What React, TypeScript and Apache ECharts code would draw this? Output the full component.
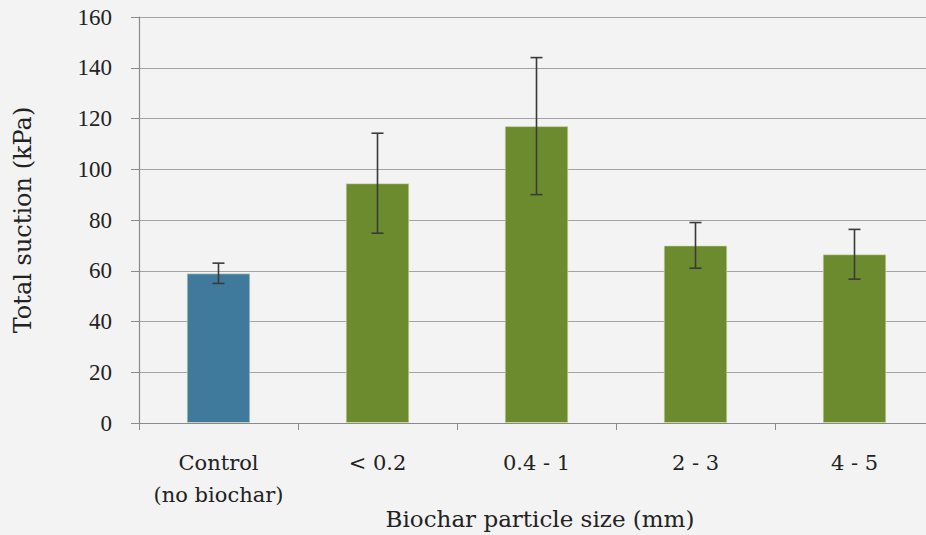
import React, { useEffect, useRef } from "react";
import * as echarts from "echarts";

// Particle-size classes on the x axis
const categories = ["Control\n(no biochar)", "< 0.2", "0.4 - 1", "2 - 3", "4 - 5"];
// Mean total suction (kPa) per class
const meanSuction = [59, 94.5, 117, 70, 66.5];
// Half-width of the error bar (kPa) per class
const suctionError = [4, 19.7, 27, 9, 9.8];
// Y axis ticks
const yMin = 0;
const yMax = 160;
const yStep = 20;

const X_TITLE = "Biochar particle size (mm)";
const Y_TITLE = "Total suction (kPa)";

const CONTROL_COLOR = "#3f7a9c";
const BIOCHAR_COLOR = "#6c8a2e";
const TEXT_FONT = "'DejaVu Serif', 'Liberation Serif', serif";
const TICK_FONT = "'Liberation Serif', serif";

export default function App() {
  const ref = useRef<HTMLDivElement>(null);

  useEffect(() => {
    document.body.style.margin = "0";
    if (!ref.current) return;
    const chart = echarts.init(ref.current, undefined, { renderer: "svg" });

    const errorData = meanSuction.map((m, i) => [i, m - suctionError[i], m + suctionError[i]]);

    chart.setOption({
      animation: false,
      backgroundColor: "#f3f3f3",
      grid: {
        left: 139,
        right: -8,
        top: 17,
        bottom: 112,
        containLabel: false,
        outerBoundsMode: "none",
      },
      graphic: [
        {
          type: "text",
          x: 540,
          y: 519,
          style: {
            text: X_TITLE,
            fontFamily: TEXT_FONT,
            fontSize: 23,
            fill: "#222",
            align: "center",
            verticalAlign: "middle",
          },
        },
      ],
      xAxis: {
        type: "category",
        data: categories,
        axisLine: { show: true, lineStyle: { color: "#8a8a8a", width: 1.2 } },
        axisTick: { show: true, length: 7, alignWithLabel: false, lineStyle: { color: "#8a8a8a" } },
        axisLabel: {
          fontFamily: TEXT_FONT,
          fontSize: 21,
          color: "#222",
          margin: 24,
          lineHeight: 32,
          interval: 0,
        },
        splitLine: { show: false },
      },
      yAxis: {
        type: "value",
        min: yMin,
        max: yMax,
        interval: yStep,
        name: Y_TITLE,
        nameLocation: "middle",
        nameGap: 104,
        nameTextStyle: { fontFamily: TEXT_FONT, fontSize: 24, color: "#222" },
        axisLine: { show: true, lineStyle: { color: "#8a8a8a", width: 1.2 } },
        axisTick: { show: true, length: 8, lineStyle: { color: "#8a8a8a" } },
        axisLabel: {
          fontFamily: TICK_FONT,
          fontSize: 23,
          color: "#222",
          margin: 27,
        },
        splitLine: { show: true, lineStyle: { color: "#a3a3a3", width: 1 } },
      },
      series: [
        {
          type: "bar",
          data: meanSuction,
          barWidth: "40%",
          itemStyle: {
            color: (p: any) => (p.dataIndex === 0 ? CONTROL_COLOR : BIOCHAR_COLOR),
            borderColor: "rgba(220,228,190,0.6)",
            borderWidth: 1,
          },
          z: 2,
        },
        {
          type: "custom",
          data: errorData,
          z: 3,
          renderItem: (params: any, api: any) => {
            const idx = api.value(0);
            const low = api.coord([idx, api.value(1)]);
            const high = api.coord([idx, api.value(2)]);
            const half = 6;
            const style = { stroke: "#3a3a3a", lineWidth: 1.6 };
            return {
              type: "group",
              children: [
                { type: "line", shape: { x1: high[0], y1: high[1], x2: low[0], y2: low[1] }, style },
                { type: "line", shape: { x1: high[0] - half, y1: high[1], x2: high[0] + half, y2: high[1] }, style },
                { type: "line", shape: { x1: low[0] - half, y1: low[1], x2: low[0] + half, y2: low[1] }, style },
              ],
            };
          },
        },
      ],
    });

    return () => chart.dispose();
  }, []);

  return (
    <div
      ref={ref}
      style={{ position: "fixed", left: 0, top: 0, width: 926, height: 535 }}
    />
  );
}
